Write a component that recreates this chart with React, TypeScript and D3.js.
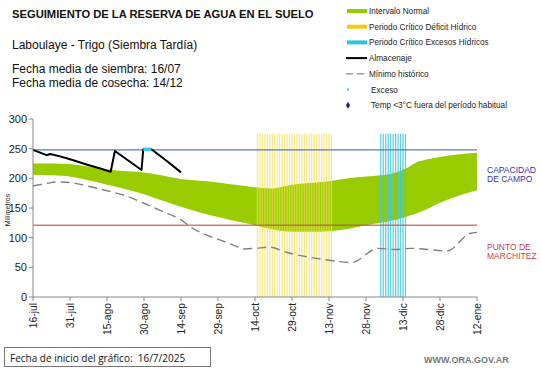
import React, { useEffect, useRef } from 'react';
import * as d3 from 'd3';

// days counted from 16-jul (day 0)
const tickLabels = ['16-jul', '31-jul', '15-ago', '30-ago', '14-sep', '29-sep', '14-oct', '29-oct', '13-nov', '28-nov', '13-dic', '28-dic', '12-ene'];
const yTicks = [0, 50, 100, 150, 200, 250, 300];

const normalUpper: [number, number][] = [
  [0, 225], [8, 225], [15, 224], [22, 220], [30, 215], [38, 212], [45, 210], [52, 205], [60, 199],
  [68, 196], [75, 193], [82, 189], [90, 185], [97, 183], [105, 189], [112, 192], [120, 195],
  [128, 200], [135, 203], [141, 205], [147, 210], [151, 216], [155, 226], [160, 232], [165, 236],
  [172, 240], [180, 243],
];
const normalLower: [number, number][] = [
  [0, 206], [8, 205], [15, 203], [22, 197], [30, 189], [38, 181], [45, 173], [52, 163], [60, 152],
  [68, 142], [75, 135], [82, 128], [90, 121], [97, 114], [105, 110], [112, 110], [120, 111],
  [128, 115], [135, 121], [141, 125], [147, 130], [151, 135], [158, 145], [165, 159], [172, 170],
  [180, 180],
];
const minimoHistorico: [number, number][] = [
  [0, 187], [5, 191], [10, 194], [15, 193], [22, 187], [30, 179], [38, 170], [45, 158], [52, 145],
  [60, 130], [65, 115], [70, 105], [76, 96], [81, 88], [86, 81], [90, 82], [96, 84], [103, 75],
  [115, 65], [120, 62], [129, 58], [140, 82], [147, 80], [153, 82], [168, 78], [177, 107], [180, 109],
];
const almacenaje: [number, number][] = [
  [0, 248], [5.5, 239], [7, 241], [11, 237], [16, 231], [22, 223], [27, 217], [31.5, 211],
  [33.2, 246], [44, 214], [44.7, 249], [48, 249], [54, 230], [60, 210],
];
const exceso: [number, number][] = [[44.7, 249], [46, 249], [47, 249], [48, 249]];

const deficitDays = d3.range(91, 122);
const excesoDays = d3.range(141, 152);
const criticoTop = 275;
const capacidadCampo = 248;
const puntoMarchitez = 121;

const legendItems = [
  { label: 'Intervalo Normal', kind: 'bar', color: '#99cc00' },
  { label: 'Periodo Crítico Déficit Hídrico', kind: 'bar', color: '#f5c816' },
  { label: 'Periodo Crítico Excesos Hídricos', kind: 'bar', color: '#2cc4e4' },
  { label: 'Almacenaje', kind: 'line', color: '#000' },
  { label: 'Mínimo histórico', kind: 'dash', color: '#888' },
  { label: 'Exceso', kind: 'dot', color: '#33ccee' },
  { label: 'Temp <3°C fuera del período habitual', kind: 'diamond', color: '#1a1a99' },
];

const App = () => {
  const svgRef = useRef<SVGSVGElement>(null);

  useEffect(() => {
    const svg = d3.select(svgRef.current);
    svg.selectAll('*').remove();
    const font = 'Liberation Sans, Arial, sans-serif';

    const x = d3.scaleLinear().domain([0, 180]).range([33, 477]);
    const y = d3.scaleLinear().domain([0, 300]).range([297, 119]);

    // header
    svg.append('text').attr('x', 12).attr('y', 18).attr('font-family', font)
      .attr('font-size', 11.2).attr('font-weight', 'bold').attr('fill', '#111')
      .text('SEGUIMIENTO DE LA RESERVA DE AGUA  EN EL SUELO');
    const header = [['Laboulaye - Trigo (Siembra Tardía)', 49], ['Fecha media de siembra: 16/07', 73], ['Fecha media de cosecha: 14/12', 87]];
    header.forEach(([t, yy]) => {
      svg.append('text').attr('x', 12).attr('y', yy as number).attr('font-family', font)
        .attr('font-size', 12).attr('fill', '#111').text(t as string);
    });

    // legend
    const lg = svg.append('g').attr('font-family', font).attr('font-size', 8.2).attr('fill', '#222');
    legendItems.forEach((it, i) => {
      const cy = 11 + i * 15.7;
      if (it.kind === 'bar') {
        lg.append('rect').attr('x', 347).attr('y', cy - 2).attr('width', 20).attr('height', 4).attr('fill', it.color);
      } else if (it.kind === 'line') {
        lg.append('line').attr('x1', 346).attr('x2', 367).attr('y1', cy).attr('y2', cy).attr('stroke', it.color).attr('stroke-width', 2);
      } else if (it.kind === 'dash') {
        lg.append('line').attr('x1', 346).attr('x2', 367).attr('y1', cy).attr('y2', cy).attr('stroke', it.color)
          .attr('stroke-width', 1.3).attr('stroke-dasharray', '7,4');
      } else if (it.kind === 'dot') {
        lg.append('rect').attr('x', 347).attr('y', cy - 1).attr('width', 2).attr('height', 2).attr('fill', it.color);
      } else {
        lg.append('path').attr('d', d3.symbol(d3.symbolDiamond, 14)()).attr('transform', `translate(348,${cy})`).attr('fill', it.color);
      }
      lg.append('text').attr('x', it.kind === 'dot' || it.kind === 'diamond' ? 371 : 369).attr('y', cy + 3).text(it.label);
    });

    const plot = svg.append('g');

    // normal band: upper edge forward, lower edge back
    const edge = d3.line<[number, number]>().x(d => x(d[0])).y(d => y(d[1])).curve(d3.curveMonotoneX);
    const pathUp = edge(normalUpper) as string;
    const pathLow = (edge([...normalLower].reverse()) as string).replace(/^M/, 'L');
    plot.append('path').attr('d', pathUp + pathLow + 'Z').attr('fill', '#99cc00');

    // critical period stripes
    deficitDays.forEach(d => {
      plot.append('line').attr('x1', x(d)).attr('x2', x(d)).attr('y1', y(criticoTop)).attr('y2', y(0))
        .attr('stroke', '#f2df5a').attr('stroke-opacity', 0.7).attr('stroke-width', 1.3);
    });
    excesoDays.forEach(d => {
      plot.append('line').attr('x1', x(d)).attr('x2', x(d)).attr('y1', y(criticoTop)).attr('y2', y(0))
        .attr('stroke', '#38c6e2').attr('stroke-opacity', 0.8).attr('stroke-width', 1.3);
    });

    // reference lines
    plot.append('line').attr('x1', x(0)).attr('x2', x(180)).attr('y1', y(capacidadCampo)).attr('y2', y(capacidadCampo))
      .attr('stroke', '#4f7fc0').attr('stroke-width', 1.2);
    plot.append('line').attr('x1', x(0)).attr('x2', x(180)).attr('y1', y(puntoMarchitez)).attr('y2', y(puntoMarchitez))
      .attr('stroke', '#c0504d').attr('stroke-opacity', 0.75).attr('stroke-width', 1.6);

    // minimum historic
    plot.append('path').attr('d', edge(minimoHistorico))
      .attr('fill', 'none').attr('stroke', '#808080').attr('stroke-width', 1.4).attr('stroke-dasharray', '9,5');

    // almacenaje
    plot.append('path').attr('d', d3.line<[number, number]>().x(d => x(d[0])).y(d => y(d[1]))(almacenaje))
      .attr('fill', 'none').attr('stroke', '#000').attr('stroke-width', 2).attr('stroke-linejoin', 'round');
    plot.append('path').attr('d', d3.line<[number, number]>().x(d => x(d[0])).y(d => y(d[1]))(exceso))
      .attr('fill', 'none').attr('stroke', '#33ccee').attr('stroke-width', 3.5);

    // axes
    const ax = svg.append('g').attr('font-family', font);
    ax.append('line').attr('x1', 33).attr('x2', 33).attr('y1', y(300)).attr('y2', y(0)).attr('stroke', '#888');
    ax.append('line').attr('x1', 33).attr('x2', x(180)).attr('y1', y(0)).attr('y2', y(0)).attr('stroke', '#888');
    yTicks.forEach(v => {
      ax.append('line').attr('x1', 29).attr('x2', 33).attr('y1', y(v)).attr('y2', y(v)).attr('stroke', '#888');
      ax.append('text').attr('x', 27).attr('y', y(v) + 4).attr('text-anchor', 'end').attr('font-size', 11)
        .attr('fill', '#222').text(v);
    });
    tickLabels.forEach((t, i) => {
      const xx = x(i * 15);
      ax.append('line').attr('x1', xx).attr('x2', xx).attr('y1', y(0)).attr('y2', y(0) + 4).attr('stroke', '#888');
      ax.append('text').attr('transform', `translate(${xx + 3.5},303) rotate(-90)`).attr('text-anchor', 'end')
        .attr('font-size', 10.3).attr('fill', '#222').text(t);
    });
    ax.append('text').attr('transform', 'translate(10,210) rotate(-90)').attr('text-anchor', 'middle')
      .attr('font-size', 7).attr('fill', '#222').text('Milímetros');

    // right side labels
    const rs = svg.append('g').attr('font-family', font).attr('font-size', 8.5);
    rs.append('text').attr('x', 487).attr('y', 173).attr('fill', '#3333aa').text('CAPACIDAD');
    rs.append('text').attr('x', 487).attr('y', 182).attr('fill', '#3333aa').text('DE  CAMPO');
    rs.append('text').attr('x', 487).attr('y', 250).attr('fill', '#d03a4a').text('PUNTO  DE');
    rs.append('text').attr('x', 487).attr('y', 259).attr('fill', '#d03a4a').text('MARCHITEZ');

    // footer
    svg.append('rect').attr('x', 4.5).attr('y', 347.5).attr('width', 206).attr('height', 19)
      .attr('fill', '#fff').attr('stroke', '#777');
    svg.append('text').attr('x', 10).attr('y', 361.5).attr('font-family', 'Open Sans, Liberation Sans, sans-serif')
      .attr('font-size', 10).attr('fill', '#111').attr('xml:space', 'preserve')
      .style('white-space', 'pre').text('Fecha de inicio del gráfico:  16/7/2025');
    svg.append('text').attr('x', 424).attr('y', 363).attr('font-family', font).attr('font-size', 9)
      .attr('font-weight', 'bold').attr('fill', '#777').text('WWW.ORA.GOV.AR');
  }, []);

  return (
    <svg ref={svgRef} width={541} height={368}
      style={{ position: 'absolute', left: 0, top: 0, background: '#fff' }} />
  );
};

export default App;
